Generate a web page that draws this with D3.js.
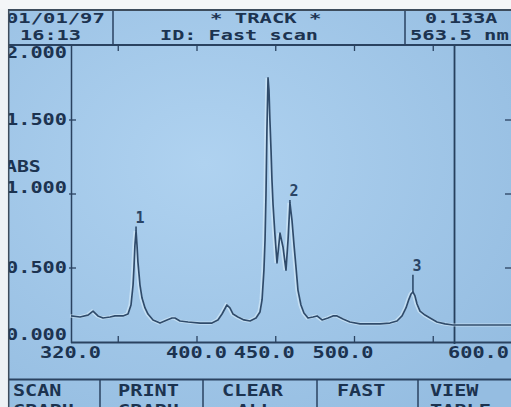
<!DOCTYPE html>
<html><head><meta charset="utf-8">
<script src="https://cdn.jsdelivr.net/npm/d3@7"></script>
<style>
html,body{margin:0;padding:0;background:#eef2f5;overflow:hidden}
svg{display:block}
text{font-family:"DejaVu Sans Mono",monospace;font-weight:bold;fill:#1c3350}
</style></head><body>
<script>
// ---- data ----
const wavelengths = [320.0,325.7,330.8,334.0,337.1,340.3,344.8,347.9,353.0,356.2,358.1,359.4,360.0,360.6,361.3,361.9,362.5,363.8,365.1,367.0,368.9,372.1,376.5,381.0,384.1,386.0,389.2,394.3,401.9,409.5,413.3,415.9,419.0,420.9,422.9,426.0,429.8,433.7,437.5,440.0,441.3,442.5,443.2,443.8,444.4,445.1,445.7,446.3,447.0,447.6,448.3,449.5,450.8,452.7,454.6,456.5,457.8,459.0,460.3,461.6,462.9,464.1,466.0,467.9,470.5,473.7,476.2,479.4,483.2,486.3,488.9,492.7,497.1,503.5,509.8,516.2,522.5,527.0,530.2,532.7,534.6,535.9,537.1,538.4,539.7,541.6,544.8,548.0,552.4,557.5,562.5,570.0,580.0,590.0,600.0];
const absorbance = [0.176,0.169,0.182,0.209,0.176,0.162,0.169,0.176,0.176,0.189,0.25,0.385,0.507,0.655,0.75,0.655,0.54,0.385,0.297,0.23,0.189,0.149,0.128,0.149,0.162,0.162,0.142,0.135,0.128,0.128,0.149,0.189,0.25,0.23,0.189,0.169,0.149,0.142,0.162,0.203,0.284,0.486,0.689,0.993,1.432,1.784,1.703,1.5,1.297,1.095,0.926,0.723,0.534,0.736,0.642,0.486,0.689,0.94,0.824,0.655,0.5,0.351,0.25,0.196,0.162,0.169,0.176,0.149,0.162,0.176,0.176,0.155,0.135,0.122,0.122,0.122,0.128,0.142,0.176,0.23,0.29,0.324,0.338,0.311,0.257,0.209,0.182,0.162,0.135,0.122,0.115,0.115,0.115,0.115,0.115];
const peakLabels = ["1","2","3"];
const peakWavelengths = [361.3,459.0,537.1];
const peakValues = [0.75,0.94,0.338];
const peakMarkerTops = [0.78,0.96,0.455];
const xTickValues = [350,400,450,500,550];
const xLabelValues = [320,400,450,500,600];
const yTickValues = [0.5,1.0,1.5];
const yLabelValues = [2.0,1.5,1.0,0.5,0.0];
const yAxisTitle = "ABS";
const headerDate = "01/01/97", headerTime = "16:13";
const headerTitle = "* TRACK *", headerId = "ID: Fast scan";
const cursorAbs = "0.133A", cursorWl = "563.5 nm";
const cursorWavelength = 563.5;
const buttons = [["SCAN","GRAPH"],["PRINT","GRAPH"],["CLEAR","ALL"],["FAST",""],["VIEW","TABLE"]];

// ---- drawing ----
const W=511,H=407, PITCH=12.6;
const svg=d3.select("body").append("svg").attr("width",W).attr("height",H);
const defs=svg.append("defs");
const rg=defs.append("radialGradient").attr("id","bg").attr("cx","40%").attr("cy","40%").attr("r","75%");
rg.append("stop").attr("offset","0%").attr("stop-color","#afd2f0");
rg.append("stop").attr("offset","100%").attr("stop-color","#95bde1");
svg.append("rect").attr("x",0).attr("y",0).attr("width",W).attr("height",H).attr("fill","url(#bg)");

const x=d3.scaleLinear().domain([320,600]).range([71,512]);
const y=d3.scaleLinear().domain([0,2]).range([342,46]);
const lineC="#2f4b6b";

function txt(s,x0,yb,n,fs){ // stretched LCD-like text
  if(!s) return;
  const len=(n||s.length)*PITCH-2;
  svg.append("text").attr("x",x0).attr("y",yb).attr("font-size",fs||15)
    .attr("textLength",len).attr("lengthAdjust","spacingAndGlyphs").text(s);
}
function ln(x1,y1,x2,y2,w,c){svg.append("line").attr("x1",x1).attr("y1",y1).attr("x2",x2).attr("y2",y2)
  .attr("stroke",c||"#2a4260").attr("stroke-width",w||1.5);}

// header
ln(0,45,W,45,2); ln(113,10,113,45,1.5); ln(405,10,405,45,1.5);
txt(headerDate,6,23,null,14); txt(headerTime,20,40,null,14);
txt(headerTitle,210,23,null,14); txt(headerId,160,40,12.7,14);
txt(cursorAbs,425,23,5.9,14); txt(cursorWl,410,40,null,14);

// axes
ln(71.5,45,71.5,343,1.5); ln(71,342.5,W,342.5,2);
xTickValues.forEach(v=>{ln(x(v),45,x(v),51,1.3); ln(x(v),336,x(v),343,1.3);});
yTickValues.forEach(v=>{ln(69,y(v),76,y(v),1.3); ln(505,y(v),W,y(v),1.3);});
const xShift={450:-11,500:-11};
xLabelValues.forEach(v=>{
  let s=d3.format(".1f")(v); let st=Math.min(x(v)-31+(xShift[v]||0), W-63);
  txt(s,st,358);
});
yLabelValues.forEach(v=>{
  let s=d3.format(".3f")(v); let b=Math.max(58,Math.min(340,y(v)+(v===1?-1:5)));
  txt(s,6,b);
});
txt(yAxisTitle,5,172);

// cursor
ln(x(cursorWavelength),45,x(cursorWavelength),344,1.8,"#26405e");

// spectrum
const pts=wavelengths.map((w,i)=>[w,absorbance[i]]);
const line=d3.line().x(d=>x(d[0])).y(d=>y(d[1]));
svg.append("path").datum(pts).attr("d",line).attr("fill","none").attr("stroke","#d4e9f8")
  .attr("stroke-width",3.2).attr("stroke-opacity",0.7).attr("transform","translate(-1,0)");
svg.append("path").datum(pts).attr("d",line).attr("fill","none").attr("stroke",lineC)
  .attr("stroke-width",1.7).attr("stroke-linejoin","round");

// peak markers
peakLabels.forEach((p,i)=>{
  const px=x(peakWavelengths[i]);
  ln(px,y(peakValues[i]),px,y(peakMarkerTops[i]),1.6,lineC);
  svg.append("text").attr("x",px+4).attr("y",y(peakMarkerTops[i])-4).attr("font-size",15)
    .attr("text-anchor","middle").style("fill","#2a4566").text(p);
});

// buttons
ln(0,379.5,W,379.5,2);
[100,203,317,418].forEach(v=>ln(v,379,v,H,1.5));
const bStart=[13,118,222,337,430];
buttons.forEach((b,i)=>{
  txt(b[0],bStart[i],396);
  if(b[1]) txt(b[1], b[1]==="ALL"?bStart[i]+15:bStart[i], 416);
});

// bezel
svg.append("rect").attr("x",0).attr("y",0).attr("width",8).attr("height",H).attr("fill","#eef2f5");
svg.append("rect").attr("x",0).attr("y",0).attr("width",W).attr("height",9.5).attr("fill","#f4f6f8");
ln(8.7,9,8.7,H,1.5,"#3d4c5c"); ln(8,10,W,10,2,"#3d4c5c");
</script>
</body></html>
